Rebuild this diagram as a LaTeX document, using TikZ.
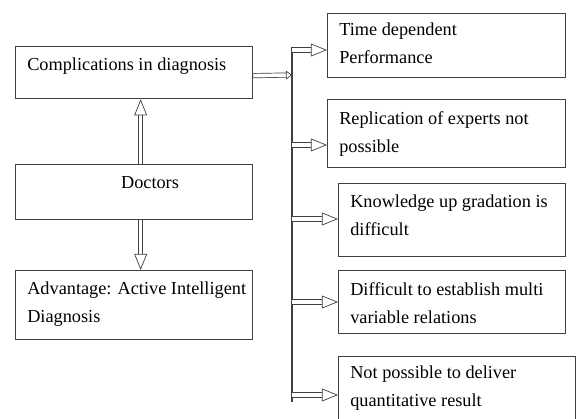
\documentclass[tikz,border=0pt]{standalone}
\usepackage{fontspec}
\setmainfont{Liberation Serif}
\usetikzlibrary{arrows.meta}

\begin{document}
\begin{tikzpicture}[x=0.025cm, y=-0.025cm, font=\fontsize{13pt}{19.9pt}\selectfont,
  bx/.style={draw=black!75, line width=0.9pt, anchor=north west, inner sep=0pt},
  txt/.style={anchor=north west, align=left, inner sep=0pt},
  dbl/.style={draw=black!75, line width=0.5pt, double=white, double distance=2.6pt,
              -{Triangle[open, length=0.4cm, width=0.32cm]}},
  bus/.style={draw=black!75, line width=0.8pt}]
\useasboundingbox (0,0) rectangle (581,419);
% Left column.
\node[bx, minimum width=5.925cm, minimum height=1.3cm] (comp) at (15,46) {};
\node[txt] (compt) at ([shift={(12,12)}]comp.north west) {Complications in diagnosis};
\node[bx, minimum width=5.925cm, minimum height=1.375cm] (doc) at (15,164) {};
\node[txt, anchor=north] (doct) at ([shift={(135,12)}]doc.north west) {Doctors};
\node[bx, minimum width=5.925cm, minimum height=1.725cm] (adv) at (15,270) {};
\node[txt] (advt) at ([shift={(12,12)}]adv.north west) {Advantage: Active Intelligent\\Diagnosis};
% Right column.
\node[bx, minimum width=5.95cm, minimum height=1.6cm] (time) at (327,13) {};
\node[txt] (timet) at ([shift={(12,10)}]time.north west) {Time dependent\\Performance};
\node[bx, minimum width=5.95cm, minimum height=1.7cm] (repl) at (327,99) {};
\node[txt] (replt) at ([shift={(12,12)}]repl.north west) {Replication of experts not\\possible};
\node[bx, minimum width=5.675cm, minimum height=1.825cm] (know) at (338,183) {};
\node[txt] (knowt) at ([shift={(12,12)}]know.north west) {Knowledge up gradation is\\difficult};
\node[bx, minimum width=5.675cm, minimum height=1.575cm] (diff) at (338,270) {};
\node[txt] (difft) at ([shift={(12,12)}]diff.north west) {Difficult to establish multi\\variable relations};
\node[bx, minimum width=5.925cm, minimum height=1.65cm] (notp) at (338,356) {};
\node[txt] (notpt) at ([shift={(12,10)}]notp.north west) {Not possible to deliver\\quantitative result};
% Connectors.
\coordinate (bustop) at (292,47);
\coordinate (busbot) at (292,402);
\draw[bus] (bustop) -- (busbot);
\draw[dbl] ([shift={(6.5,0)}]doc.north) -- ([shift={(6.5,0)}]comp.south);
\draw[dbl] ([shift={(6.5,0)}]doc.south) -- ([shift={(6.5,0)}]adv.north);
\draw[dbl, -{Triangle[open, length=0.15cm, width=0.22cm]}] ([shift={(0,3)}]comp.east) -- (bustop |- 0,75);
\foreach \y/\n in {50/time, 145/repl, 219/know, 302/diff, 395/notp}
  \draw[dbl] (292,\y) -- (\n.west |- 292,\y);
\end{tikzpicture}
\end{document}
